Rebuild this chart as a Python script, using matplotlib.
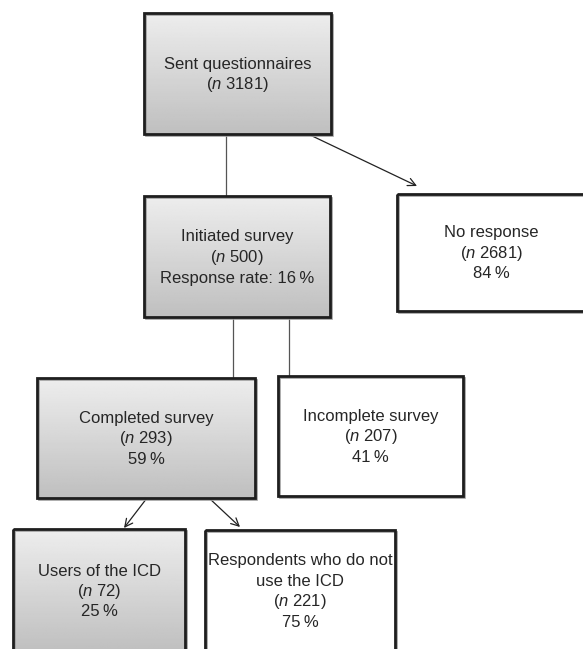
import numpy as np
import matplotlib
matplotlib.use("Agg")
import matplotlib.pyplot as plt
from matplotlib.patches import Rectangle

plt.rcParams["font.family"] = ["Liberation Sans", "DejaVu Sans"]
plt.rcParams["mathtext.fontset"] = "custom"
plt.rcParams["mathtext.rm"] = "Liberation Sans"
plt.rcParams["mathtext.it"] = "Liberation Sans:italic"

# -------------------------------------------------
# Flowchart data
# -------------------------------------------------
titles = ["Sent questionnaires", "Initiated survey", "No response",
          "Completed survey", "Incomplete survey", "Users of the ICD",
          "Respondents who do not\nuse the ICD"]
counts = [3181, 500, 2681, 293, 207, 72, 221]
percents = [None, "Response rate: 16", "84", "59", "41", "25", "75"]
shaded = [True, True, False, True, False, True, False]

# box geometry in pixels (x0, y0, x1, y1), y grows downward
boxes = [(144, 13, 331, 134), (144, 196, 330, 317), (397, 194, 586, 311),
         (37, 378, 255, 498), (278, 376, 463, 496), (13, 529, 185, 652),
         (205, 530, 395, 651)]

W, H = 583, 649
fig = plt.figure(figsize=(W / 100, H / 100), dpi=100)
ax = fig.add_axes([0, 0, 1, 1])
ax.set_xlim(0, W)
ax.set_ylim(H, 0)
ax.axis("off")

grad = np.linspace(0.93, 0.75, 100).reshape(-1, 1)
LINE_H = 20.5

for (x0, y0, x1, y1), title, n, pct, sh in zip(boxes, titles, counts, percents, shaded):
    # soft shadow
    ax.add_patch(Rectangle((x0 + 1.5, y0 + 1.5), x1 - x0, y1 - y0,
                           fill=False, ec="#a0a0a0", lw=1.2, zorder=2))
    if sh:
        im = ax.imshow(grad, cmap="gray", vmin=0, vmax=1, aspect="auto",
                       extent=(x0, x1, y1, y0), zorder=1)
        bg = Rectangle((x0, y0), x1 - x0, y1 - y0, transform=ax.transData)
        im.set_clip_path(bg)
    else:
        ax.add_patch(Rectangle((x0, y0), x1 - x0, y1 - y0, fc="white",
                               ec="none", zorder=1))
    ax.add_patch(Rectangle((x0, y0), x1 - x0, y1 - y0, fill=False,
                           ec="#1e1e1e", lw=2.0, zorder=3))
    lines = title.split("\n") + ["($n$ %d)" % n]
    if pct is not None:
        lines.append(pct + "\u2009%")
    cx, cy = (x0 + x1) / 2, (y0 + y1) / 2
    k = len(lines)
    for i, s in enumerate(lines):
        ax.text(cx, cy + (i - (k - 1) / 2) * LINE_H + 5.5, s, ha="center",
                va="baseline", fontsize=12, color="#262626", zorder=4)

# -------------------------------------------------
# Connectors
# -------------------------------------------------
line_kw = dict(color="#555555", lw=0.9, zorder=0)
ax.plot([226, 226], [134, 196], **line_kw)
ax.plot([233, 233], [317, 378], **line_kw)
ax.plot([289, 289], [317, 376], **line_kw)

arrow_kw = dict(arrowstyle="->", color="#222222", lw=0.9,
                mutation_scale=14, shrinkA=0, shrinkB=0)
for start, end in [((308, 134), (417, 186)),
                   ((147, 498), (124, 528)),
                   ((209, 498), (240, 527))]:
    ax.annotate("", xy=end, xytext=start, arrowprops=arrow_kw, zorder=0)

fig.savefig("out.png", dpi=100)
